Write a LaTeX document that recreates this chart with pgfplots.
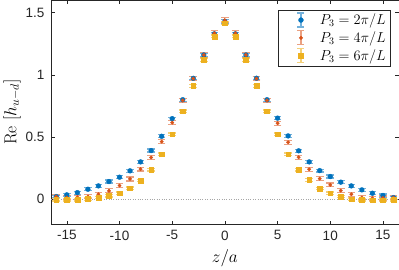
\documentclass[border=0pt]{standalone}
\usepackage[no-math]{fontspec}
\newfontfamily\helv{Liberation Sans}
\usepackage{pgfplots}
\usepackage{pgfplotstable}
\pgfplotsset{compat=1.18}
\definecolor{mblue}{rgb}{0,0.447,0.741}
\definecolor{mred}{rgb}{0.85,0.325,0.098}
\definecolor{myel}{rgb}{0.929,0.694,0.125}
\definecolor{axgray}{rgb}{0.15,0.15,0.15}

\pgfplotstableread{
z y e
-16 0.021 0.012
-15 0.035 0.012
-14 0.053 0.012
-13 0.080 0.012
-12 0.107 0.012
-11 0.142 0.012
-10 0.177 0.012
-9 0.228 0.012
-8 0.300 0.012
-7 0.391 0.012
-6 0.506 0.012
-5 0.648 0.012
-4 0.800 0.012
-3 0.972 0.012
-2 1.160 0.013
-1 1.330 0.013
0 1.430 0.014
1 1.330 0.013
2 1.160 0.013
3 0.973 0.012
4 0.800 0.012
5 0.652 0.012
6 0.509 0.012
7 0.389 0.012
8 0.300 0.012
9 0.230 0.012
10 0.182 0.012
11 0.137 0.012
12 0.107 0.012
13 0.075 0.012
14 0.048 0.012
15 0.030 0.012
16 0.013 0.012
}\blue

\pgfplotstableread{
z y e
-16 0.021 0.016
-15 0.013 0.016
-14 0.016 0.016
-13 0.021 0.016
-12 0.040 0.016
-11 0.067 0.016
-10 0.110 0.016
-9 0.163 0.016
-8 0.242 0.016
-7 0.336 0.016
-6 0.463 0.016
-5 0.616 0.016
-4 0.795 0.017
-3 0.970 0.018
-2 1.160 0.020
-1 1.335 0.020
0 1.440 0.022
1 1.335 0.020
2 1.160 0.020
3 0.970 0.018
4 0.795 0.017
5 0.611 0.016
6 0.458 0.016
7 0.338 0.016
8 0.241 0.016
9 0.165 0.016
10 0.115 0.016
11 0.069 0.016
12 0.040 0.016
13 0.013 0.016
14 0.008 0.016
15 0.010 0.016
16 0.013 0.016
}\red

\pgfplotstableread{
z y e
-16 -0.005 0.010
-15 -0.005 0.010
-14 -0.005 0.010
-13 0.002 0.010
-12 0.013 0.010
-11 0.027 0.010
-10 0.048 0.010
-9 0.088 0.010
-8 0.150 0.010
-7 0.236 0.010
-6 0.362 0.010
-5 0.523 0.010
-4 0.707 0.010
-3 0.910 0.010
-2 1.120 0.010
-1 1.310 0.010
0 1.416 0.010
1 1.310 0.010
2 1.120 0.010
3 0.910 0.010
4 0.707 0.010
5 0.523 0.010
6 0.362 0.010
7 0.236 0.010
8 0.155 0.010
9 0.087 0.010
10 0.048 0.010
11 0.021 0.010
12 0.000 0.010
13 -0.005 0.010
14 -0.008 0.010
15 -0.008 0.010
16 -0.005 0.010
}\yel

\begin{document}
\begin{tikzpicture}
\begin{axis}[
  scale only axis,
  width=347.4pt, height=223.6pt,
  xmin=-16.5, xmax=16.5, ymin=-0.2, ymax=1.6,
  xtick={-15,-10,...,15}, ytick={0,0.5,1,1.5},
  yticklabels={0,0.5,1,1.5},
  xticklabels={-15,-10,-5,0,5,10,15},
  tick align=inside, major tick length=3.5pt,
  axis line style={axgray, line width=0.5pt},
  tick style={axgray, line width=0.5pt},
  tick label style={font=\helv\fontsize{13.5}{13.5}\selectfont, text=axgray},
  yticklabel style={xshift=-3pt},
  xticklabel style={yshift=-3pt},
  xlabel={$z/a$},
  ylabel={$\mathrm{Re}\,\left[h_{u-d}\right]$},
  label style={font=\fontsize{17.5}{17.5}\selectfont},
  xlabel style={at={(axis description cs:0.5,-0.2048)}, anchor=south},
  ylabel style={at={(axis description cs:-0.1123,0.5)}, anchor=center},
  legend style={at={(axis description cs:0.975,0.958)}, anchor=north east,
    draw=axgray, line width=0.5pt, font=\fontsize{14.5}{17}\selectfont,
    row sep=1.5pt, inner sep=2pt},
  legend cell align=left,
]
\addplot[gray!70, dotted, forget plot] coordinates {(-16.5,0) (16.5,0)};

\addplot[only marks, mark=*, mark size=2.4pt, mblue, mark options={fill=mblue, draw=mblue},
  error bars/.cd, y dir=both, y explicit,
  error bar style={mblue!55, line width=1.2pt},
  error mark options={rotate=90, mark size=3.8pt, mblue!55, line width=1.2pt},
  /pgfplots/legend image code/.code={
    \path[draw=none, fill=none] (0pt,0pt) (38pt,0pt);
    \draw[mblue!55, line width=1.2pt] (21pt,-7pt) -- (21pt,7pt);
    \draw[mblue!55, line width=1.2pt] (17.5pt,-7pt) -- (24.5pt,-7pt);
    \draw[mblue!55, line width=1.2pt] (17.5pt,7pt) -- (24.5pt,7pt);
    \fill[mblue] (21pt,0pt) circle (2.4pt);
  }]
  table[x=z, y=y, y error=e]{\blue};
\addlegendentry{$P_3=2\pi/L$}

\addplot[only marks, mark=*, mark size=1.7pt, mred, mark options={fill=mred, draw=mred},
  error bars/.cd, y dir=both, y explicit,
  error bar style={mred!55, line width=1.2pt},
  error mark options={rotate=90, mark size=3.8pt, mred!55, line width=1.2pt},
  /pgfplots/legend image code/.code={
    \path[draw=none, fill=none] (0pt,0pt) (38pt,0pt);
    \draw[mred!55, line width=1.2pt] (21pt,-7pt) -- (21pt,7pt);
    \draw[mred!55, line width=1.2pt] (17.5pt,-7pt) -- (24.5pt,-7pt);
    \draw[mred!55, line width=1.2pt] (17.5pt,7pt) -- (24.5pt,7pt);
    \fill[mred] (21pt,0pt) circle (1.7pt);
  }]
  table[x=z, y=y, y error=e]{\red};
\addlegendentry{$P_3=4\pi/L$}

\addplot[only marks, mark=square*, mark size=2.4pt, myel, mark options={fill=myel, draw=myel},
  error bars/.cd, y dir=both, y explicit,
  error bar style={myel!60, line width=1.2pt},
  error mark options={rotate=90, mark size=3.8pt, myel!60, line width=1.2pt},
  /pgfplots/legend image code/.code={
    \path[draw=none, fill=none] (0pt,0pt) (38pt,0pt);
    \draw[myel!60, line width=1.2pt] (21pt,-7pt) -- (21pt,7pt);
    \draw[myel!60, line width=1.2pt] (17.5pt,-7pt) -- (24.5pt,-7pt);
    \draw[myel!60, line width=1.2pt] (17.5pt,7pt) -- (24.5pt,7pt);
    \fill[myel] (18.6pt,-2.4pt) rectangle (23.4pt,2.4pt);
  }]
  table[x=z, y=y, y error=e]{\yel};
\addlegendentry{$P_3=6\pi/L$}
\end{axis}
\end{tikzpicture}
\end{document}
